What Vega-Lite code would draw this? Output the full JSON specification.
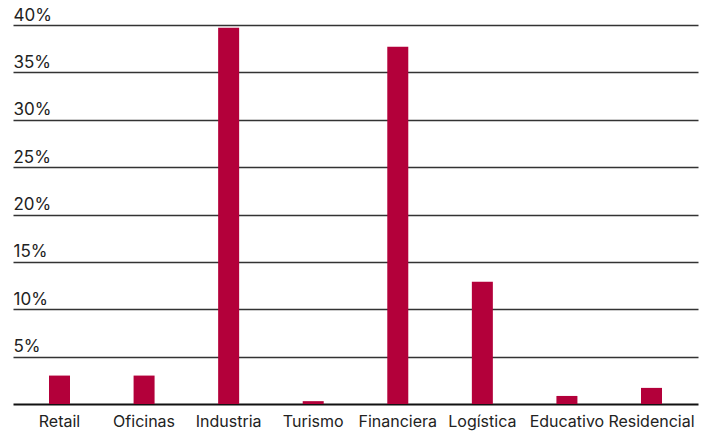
{
  "$schema": "https://vega.github.io/schema/vega-lite/v6.json",
  "width": 685,
  "height": 379,
  "autosize": {"type": "none"},
  "padding": {"left": 13, "top": 25, "right": 5, "bottom": 28},
  "background": "white",
  "config": {
    "view": {"stroke": null},
    "font": "Inter"
  },
  "data": {
    "values": [
      {"sector": "Retail", "pct": 3.0},
      {"sector": "Oficinas", "pct": 3.0},
      {"sector": "Industria", "pct": 39.7},
      {"sector": "Turismo", "pct": 0.3},
      {"sector": "Financiera", "pct": 37.7},
      {"sector": "Logística", "pct": 12.9},
      {"sector": "Educativo", "pct": 0.85},
      {"sector": "Residencial", "pct": 1.7}
    ]
  },
  "mark": {"type": "bar", "color": "#b3003a", "width": 21},
  "encoding": {
    "x": {
      "field": "sector",
      "type": "nominal",
      "sort": null,
      "scale": {"paddingInner": 0.2, "paddingOuter": 0.15},
      "axis": {
        "title": null,
        "labelAngle": 0,
        "labelFontSize": 16,
        "labelColor": "#222222",
        "labelPadding": 9,
        "ticks": false,
        "domainColor": "#111111",
        "domainWidth": 2,
        "grid": false
      }
    },
    "y": {
      "field": "pct",
      "type": "quantitative",
      "scale": {"domain": [0, 40]},
      "axis": {
        "title": null,
        "values": [5, 10, 15, 20, 25, 30, 35, 40],
        "labelExpr": "datum.value + '%'",
        "labelAlign": "left",
        "labelBaseline": "bottom",
        "labelPadding": 0,
        "labelOffset": -1,
        "tickSize": 0,
        "ticks": false,
        "domain": false,
        "grid": true,
        "gridColor": "#333333",
        "gridWidth": 1.5,
        "labelFontSize": 17,
        "labelColor": "#222222"
      }
    }
  }
}
